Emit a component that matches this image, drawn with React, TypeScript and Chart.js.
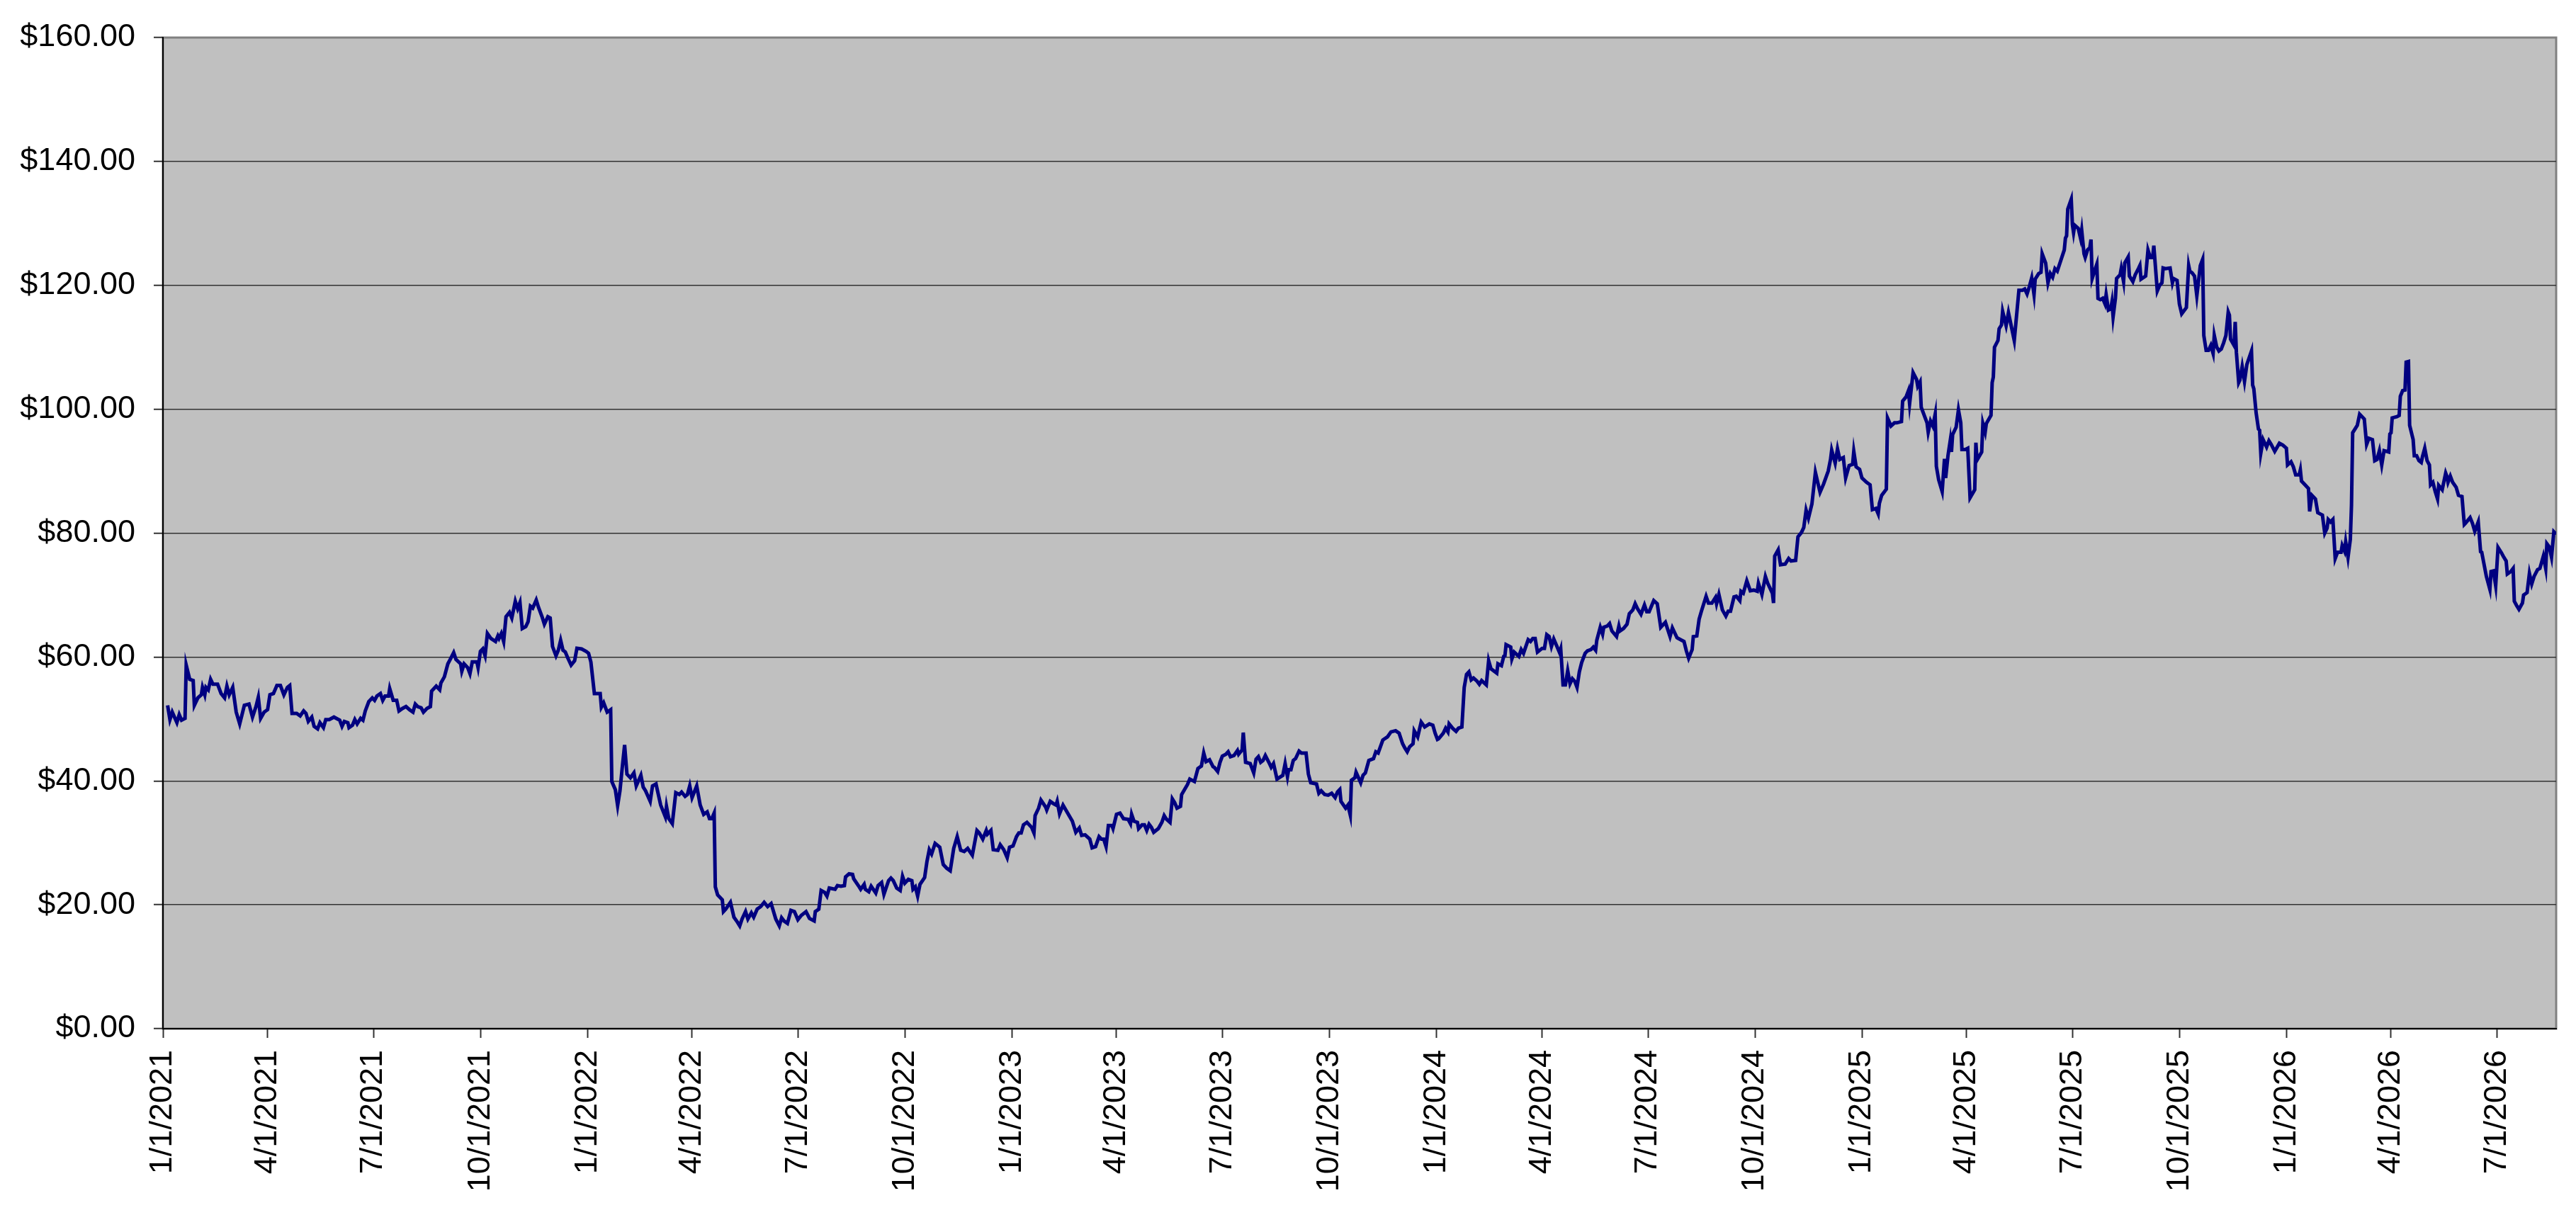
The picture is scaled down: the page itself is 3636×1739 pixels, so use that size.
import { useEffect, useRef } from 'react';
import { Chart, registerables } from 'chart.js';

Chart.register(...registerables);

// x tick labels (quarter starts)
const tickLabels = [
  '1/1/2021', '4/1/2021', '7/1/2021', '10/1/2021',
  '1/1/2022', '4/1/2022', '7/1/2022', '10/1/2022',
  '1/1/2023', '4/1/2023', '7/1/2023', '10/1/2023',
  '1/1/2024', '4/1/2024', '7/1/2024', '10/1/2024',
  '1/1/2025', '4/1/2025', '7/1/2025', '10/1/2025',
  '1/1/2026', '4/1/2026', '7/1/2026',
];

// y axis ticks in dollars
const yTicks = [0, 20, 40, 60, 80, 100, 120, 140, 160];

// days since 1/1/2021
const days = [
  4, 6, 8, 12, 14, 16, 19, 20, 23, 26, 27, 30, 33, 34, 36, 37, 39, 41, 43, 47,
  50, 53, 55, 57, 60, 63, 66, 70, 74, 77, 80, 82, 84, 87, 90, 92, 95, 98, 101, 104,
  107, 109, 111, 115, 118, 121, 123, 125, 128, 130, 133, 135, 138, 140, 143, 147, 152, 154, 156, 159,
  160, 163, 165, 167, 170, 172, 174, 177, 180, 182, 184, 187, 189, 191, 194, 195, 198, 201, 203, 206,
  209, 212, 215, 217, 219, 222, 224, 227, 230, 231, 235, 238, 239, 242, 245, 247, 250, 252, 256, 257,
  259, 262, 264, 266, 270, 271, 273, 275, 277, 279, 282, 286, 288, 289, 291, 293, 295, 298, 300, 303,
  305, 307, 309, 312, 314, 316, 318, 321, 323, 326, 328, 331, 333, 335, 338, 340, 342, 344, 346, 348,
  351, 354, 356, 360, 364,
  366, 368, 371, 376, 377, 379, 382, 385, 386, 389, 391, 393, 395, 397, 399, 402, 405, 407, 411, 413,
  415, 419, 421, 424, 428, 432, 433, 435, 438, 441, 444, 446, 449, 451, 453, 455, 459, 462, 465, 468,
  470, 472, 474, 475, 477, 481, 482, 484, 488, 491, 494, 496, 498, 501, 503, 506, 508, 511, 514, 517,
  520, 523, 527, 530, 532, 534, 537, 540, 543, 546, 549, 553, 556, 560, 561, 564, 566, 569, 571, 573,
  578, 580, 583, 586, 587, 590, 593, 594, 598, 600, 603, 604, 607, 609, 613, 615, 618, 620, 624, 626,
  628, 631, 634, 636, 638, 641, 644, 645, 647, 649, 651, 655, 657, 659, 661, 664, 668, 671, 674, 677,
  680, 683, 686, 689, 692, 696, 700, 702, 705, 708, 709, 712, 714, 718, 720, 723, 726, 728,
  731, 734, 736, 738, 740, 743, 747, 749, 750, 753, 755, 759, 760, 763, 766, 768, 769, 771, 774, 778,
  782, 785, 788, 790, 793, 797, 799, 802, 805, 807, 809, 811, 813, 816, 817, 820, 823, 826, 830, 832,
  833, 835, 838, 839, 842, 844, 846, 848, 850, 852, 856, 859, 861, 863, 866, 868, 870, 872, 875, 876,
  881, 883, 887, 890, 893, 895, 897, 900, 903, 904, 907, 909, 911, 914, 916, 918, 921, 924, 925, 928,
  929, 931, 935, 938, 940, 942, 944, 946, 948, 951, 953, 955, 958, 963, 965, 967, 968, 970, 972, 974,
  977, 979, 983, 985, 987, 992, 994, 996, 999, 1002, 1005, 1008, 1010, 1012, 1013, 1017, 1019, 1021, 1022, 1025,
  1026, 1030, 1032, 1034, 1037, 1041, 1043, 1045, 1049, 1053, 1056, 1060, 1063, 1066, 1068, 1070, 1072, 1075, 1076, 1079,
  1082, 1085, 1089, 1092, 1094, 1096,
  1097, 1101, 1103, 1105, 1106, 1109, 1112, 1114, 1117, 1119, 1121, 1123, 1125, 1127, 1130, 1132, 1134, 1138, 1140, 1142,
  1147, 1148, 1151, 1153, 1154, 1155, 1159, 1160, 1162, 1166, 1168, 1170, 1174, 1176, 1178, 1180, 1182, 1186, 1188, 1190,
  1192, 1194, 1196, 1199, 1201, 1202, 1204, 1206, 1208, 1210, 1212, 1214, 1216, 1218, 1220, 1223, 1225, 1228, 1230, 1232,
  1233, 1236, 1238, 1239, 1242, 1244, 1246, 1250, 1252, 1253, 1256, 1259, 1261, 1264, 1266, 1268, 1271, 1274, 1276, 1278,
  1282, 1285, 1288, 1292, 1296, 1298, 1302, 1306, 1308, 1310, 1312, 1315, 1316, 1319, 1321, 1323, 1327, 1329, 1332, 1335,
  1336, 1338, 1341, 1344, 1346, 1348, 1351, 1353, 1356, 1357, 1359, 1362, 1365, 1368, 1371, 1372, 1375, 1378, 1380, 1384,
  1385, 1386, 1389, 1391, 1395, 1398, 1400, 1404, 1406, 1409, 1411, 1413, 1415, 1418, 1421, 1425, 1428, 1432, 1434, 1435,
  1438, 1440, 1442, 1445, 1447, 1450, 1453, 1454, 1456,
  1459, 1461, 1465, 1468, 1470, 1473, 1475, 1476, 1478, 1482, 1483, 1486, 1489, 1491, 1495, 1496, 1499, 1501, 1502, 1505,
  1508, 1509, 1511, 1512, 1515, 1517, 1518, 1520, 1522, 1524, 1525, 1527, 1530, 1532, 1533, 1535, 1537, 1538, 1539, 1542,
  1544, 1546, 1547, 1550, 1552, 1554, 1558, 1559, 1560, 1564, 1565, 1567, 1568, 1572, 1573, 1574, 1575, 1578, 1579, 1581,
  1582, 1585, 1587, 1592, 1596, 1599, 1601, 1603, 1605, 1607, 1609, 1610, 1613, 1615, 1616, 1619, 1621, 1623, 1625, 1627,
  1629, 1632, 1635, 1636, 1637, 1638, 1641, 1642, 1643, 1644, 1647, 1649, 1650, 1652, 1653, 1655, 1657, 1658, 1659, 1661,
  1663, 1664, 1666, 1668, 1670, 1671, 1673, 1675, 1676, 1677, 1679, 1680, 1683, 1684, 1686, 1687, 1690, 1691, 1694, 1696,
  1699, 1700, 1701, 1705, 1707, 1709, 1711, 1712, 1715, 1717, 1719, 1720, 1722, 1726, 1728, 1729, 1732, 1734, 1736, 1740,
  1742, 1743, 1745, 1747, 1749, 1752, 1754, 1755, 1757, 1759,
  1761, 1763, 1764, 1766, 1768, 1770, 1772, 1774, 1776, 1777, 1778, 1781, 1782, 1783, 1785, 1786, 1788, 1790, 1792, 1796,
  1797, 1798, 1800, 1802, 1803, 1804, 1806, 1809, 1811, 1813, 1816, 1820, 1823, 1826, 1827, 1830, 1832, 1834, 1837, 1838,
  1839, 1842, 1845, 1846, 1848, 1851, 1853, 1857, 1859, 1861, 1862, 1864, 1866, 1868, 1870, 1873, 1874, 1876, 1877, 1879,
  1881, 1882, 1883, 1885, 1887, 1889, 1893, 1895, 1897, 1900, 1902, 1904, 1906, 1908, 1910, 1914, 1915, 1916, 1917, 1921,
  1923, 1924, 1926, 1928, 1929, 1931, 1932, 1935, 1936, 1938, 1940, 1942, 1943, 1945, 1947, 1949, 1950, 1952, 1954, 1956,
  1957, 1960, 1963, 1964, 1965, 1967, 1969, 1972, 1974, 1977, 1979, 1980, 1984, 1986, 1988, 1991, 1992, 1993, 1994, 1998,
  2001, 2002, 2004, 2006, 2008, 2011, 2013, 2015, 2016, 2019, 2021, 2022, 2024, 2026, 2029, 2030, 2033, 2035, 2037, 2039,
  2042, 2044, 2047, 2049, 2050, 2052, 2054, 2056, 2058,
];

const prices = [
  52.2, 49.9, 51.1, 49.4, 50.7, 49.8, 50.1, 58.7, 56.4, 56.2, 52.2, 53.4, 53.9, 55.1, 53.9, 55.1, 54.7, 56.4, 55.6, 55.6,
  54.1, 53.4, 55.3, 53.9, 55.1, 51.1, 49.2, 52.2, 52.4, 50.3, 52.0, 53.5, 50.1, 51.1, 51.5, 53.9, 54.1, 55.4, 55.4, 53.9,
  55.1, 55.4, 50.9, 50.9, 50.5, 51.3, 50.9, 49.6, 50.3, 48.8, 48.4, 49.4, 48.6, 49.9, 49.9, 50.3, 49.8, 48.8, 49.6, 49.4,
  48.6, 49.0, 49.9, 49.2, 50.1, 49.8, 51.3, 52.8, 53.4, 53.0, 53.7, 54.1, 53.0, 53.7, 53.7, 54.9, 53.0, 53.0, 51.3, 51.7,
  52.0, 51.5, 51.1, 52.4, 52.0, 51.8, 51.1, 51.7, 52.0, 54.5, 55.3, 54.7, 55.8, 56.8, 58.9, 59.6, 60.7, 59.6, 58.9, 57.7,
  58.9, 58.3, 57.3, 59.2, 59.2, 58.3, 60.9, 61.3, 60.2, 63.8, 63.0, 62.5, 63.4, 63.0, 63.8, 62.5, 66.5, 67.2, 66.3, 69.0,
  67.8, 68.8, 64.6, 64.9, 65.7, 68.2, 67.9, 69.2, 68.0, 66.5, 65.3, 66.5, 66.3, 61.7, 60.2, 61.1, 62.7, 61.1, 60.8, 59.9,
  58.7, 59.4, 61.4, 61.3, 60.9,
  60.6, 59.2, 54.1, 54.1, 51.9, 52.6, 51.1, 51.5, 39.9, 38.6, 36.0, 38.4, 42.2, 45.8, 41.1, 40.5, 41.3, 39.2, 40.9, 39.0,
  38.4, 36.7, 39.2, 39.5, 36.1, 34.2, 35.9, 33.9, 33.1, 38.1, 37.8, 38.2, 37.5, 37.8, 39.2, 37.3, 39.2, 36.1, 34.6, 35.0,
  33.9, 33.9, 34.8, 22.9, 21.6, 20.8, 18.9, 19.3, 20.4, 18.0, 17.2, 16.6, 17.7, 18.9, 17.7, 18.7, 18.0, 19.3, 19.7, 20.4,
  19.7, 20.2, 17.7, 16.6, 17.9, 17.4, 17.0, 19.1, 18.9, 17.6, 18.3, 18.9, 17.8, 17.4, 18.9, 19.3, 22.3, 22.0, 21.4, 22.7,
  22.5, 23.1, 23.0, 23.1, 24.5, 25.0, 24.9, 24.2, 23.1, 22.5, 23.3, 22.5, 22.1, 23.0, 21.9, 23.1, 23.6, 21.7, 23.9, 24.3,
  23.9, 22.7, 22.3, 24.6, 23.5, 24.1, 23.9, 22.5, 22.9, 21.4, 23.3, 24.4, 27.0, 28.9, 28.2, 29.9, 29.3, 26.5, 25.9, 25.5,
  29.1, 31.0, 28.8, 28.6, 29.1, 28.0, 32.0, 31.6, 30.6, 32.0, 31.4, 32.0, 28.9, 28.8, 29.7, 28.9, 27.6, 29.3,
  29.5, 31.0, 31.6, 31.6, 32.9, 33.3, 32.5, 31.6, 34.4, 35.6, 36.9, 35.8, 35.3, 36.7, 36.3, 36.1, 36.7, 34.7, 36.1, 34.8,
  33.5, 31.7, 32.4, 31.2, 31.3, 30.6, 29.2, 29.4, 31.0, 30.6, 30.6, 29.4, 32.8, 32.8, 32.3, 34.6, 34.8, 33.9, 33.8, 33.1,
  34.6, 33.5, 33.3, 32.3, 32.9, 32.9, 32.0, 33.0, 32.5, 31.7, 32.3, 33.3, 34.4, 33.8, 33.3, 37.1, 36.5, 35.6, 35.9, 37.8,
  39.4, 40.3, 39.9, 42.0, 42.4, 44.5, 43.1, 43.4, 42.3, 42.2, 41.5, 43.0, 44.0, 44.3, 44.7, 43.9, 44.1, 44.9, 44.3, 45.0,
  47.8, 43.0, 42.8, 41.3, 43.5, 43.9, 43.0, 43.3, 44.1, 43.0, 42.2, 42.8, 40.3, 40.9, 42.8, 40.7, 41.8, 41.8, 43.3, 43.6,
  44.8, 44.5, 44.5, 41.1, 39.7, 39.5, 38.0, 38.4, 37.8, 37.7, 38.0, 37.3, 38.2, 38.6, 36.7, 35.6, 36.1, 34.5, 40.1, 40.5,
  41.4, 39.7, 40.9, 41.3, 43.3, 43.6, 44.7, 44.5, 46.6, 47.1, 47.9, 48.1, 47.7, 46.0, 45.3, 44.7, 45.5, 46.0, 48.1, 47.1,
  49.5, 48.7, 49.2, 49.0, 47.7, 46.7,
  46.8, 47.7, 48.5, 47.9, 49.2, 48.5, 48.0, 48.5, 48.7, 55.1, 57.2, 57.6, 56.3, 56.6, 56.1, 55.6, 56.2, 55.5, 59.4, 58.1,
  57.4, 58.9, 58.6, 60.1, 60.2, 62.0, 61.6, 59.7, 60.8, 60.1, 61.2, 60.6, 62.8, 62.5, 63.0, 63.0, 60.8, 61.4, 61.4, 63.6,
  63.3, 61.7, 62.9, 61.6, 60.7, 61.3, 55.5, 55.5, 57.8, 55.7, 56.5, 56.1, 55.1, 57.6, 59.1, 60.6, 61.0, 61.2, 61.6, 61.1,
  62.7, 64.8, 63.7, 64.8, 65.0, 65.4, 64.2, 63.3, 65.0, 64.2, 64.6, 65.3, 67.0, 67.6, 68.6, 67.8, 66.9, 68.4, 67.3, 67.3,
  69.1, 68.6, 64.8, 65.6, 63.3, 64.7, 63.1, 62.7, 62.5, 61.0, 59.8, 61.2, 63.3, 63.4, 66.1, 67.4, 69.8, 68.7, 68.7, 69.6,
  68.6, 70.1, 67.6, 66.6, 67.4, 67.4, 69.7, 69.8, 69.1, 70.6, 70.3, 72.3, 70.7, 70.8, 70.6, 71.9, 70.1, 73.0, 71.9, 70.3,
  68.7, 76.3, 77.3, 74.9, 75.0, 75.9, 75.5, 75.6, 79.4, 80.1, 80.9, 83.7, 82.4, 84.7, 89.8, 86.6, 87.9, 90.0, 91.9, 93.4,
  91.3, 93.6, 91.9, 92.2, 88.9, 90.9, 91.1, 93.2, 90.7,
  90.3, 88.9, 88.2, 87.8, 83.8, 84.0, 83.1, 84.8, 86.1, 87.1, 98.6, 97.3, 97.8, 97.8, 98.0, 101.3, 102.0, 103.0, 100.9, 105.9,
  104.8, 103.7, 104.4, 100.3, 98.8, 97.8, 96.3, 98.1, 97.3, 99.2, 90.8, 88.6, 86.7, 92.0, 88.9, 92.5, 95.0, 93.1, 95.9, 97.1,
  99.9, 97.8, 93.5, 93.5, 93.7, 85.7, 87.0, 94.6, 91.8, 93.1, 97.7, 96.3, 97.7, 99.0, 104.3, 105.2, 110.0, 111.1, 113.0, 113.6,
  115.8, 113.5, 115.6, 111.1, 119.2, 119.2, 119.4, 118.6, 119.8, 121.2, 118.5, 121.0, 121.9, 122.1, 125.1, 123.6, 120.4, 121.9, 121.3, 122.7,
  122.3, 124.0, 125.7, 127.6, 128.0, 132.3, 133.9, 129.8, 128.5, 129.7, 129.2, 127.6, 128.9, 125.1, 124.5, 125.7, 126.1, 127.4, 121.1, 122.3,
  123.4, 117.9, 117.7, 117.9, 117.0, 118.5, 116.0, 116.2, 117.3, 114.9, 117.9, 121.1, 121.7, 122.7, 120.6, 123.6, 124.6, 121.5, 120.6, 121.7,
  122.8, 123.2, 121.0, 121.5, 125.7, 124.5, 124.5, 126.4, 119.1, 120.0, 120.4, 122.8, 122.7, 122.8, 120.4, 121.1, 120.8, 117.0, 115.4, 116.4,
  123.2, 122.3, 122.0, 121.5, 118.3, 123.2, 124.2, 111.9, 109.5, 109.5,
  110.3, 109.0, 111.9, 110.1, 109.4, 109.7, 110.7, 111.9, 115.7, 115.2, 111.3, 110.3, 114.1, 109.2, 104.3, 104.7, 106.9, 104.5, 107.2, 109.4,
  103.9, 103.3, 99.4, 96.8, 96.6, 92.9, 95.1, 93.9, 94.9, 94.3, 93.2, 94.5, 94.2, 93.7, 91.0, 91.5, 90.7, 89.4, 89.4, 90.2,
  88.4, 87.8, 87.2, 83.5, 86.1, 85.5, 83.3, 82.9, 80.0, 80.8, 82.2, 81.8, 82.2, 75.9, 76.9, 76.9, 78.0, 77.1, 78.6, 76.1,
  79.0, 84.5, 96.2, 96.8, 97.4, 99.2, 98.4, 94.3, 95.3, 95.1, 91.7, 91.9, 93.3, 91.0, 93.3, 93.1, 96.0, 96.2, 98.6, 98.8,
  99.0, 102.1, 103.0, 103.1, 107.6, 107.7, 97.4, 95.1, 92.5, 92.5, 91.7, 91.4, 92.3, 93.7, 91.7, 91.0, 87.8, 88.2, 86.7, 85.5,
  87.7, 87.0, 89.7, 89.2, 88.2, 89.2, 88.2, 87.4, 86.1, 85.9, 81.4, 81.6, 82.5, 81.6, 80.3, 81.8, 79.4, 77.0, 76.9, 73.0,
  70.9, 73.8, 73.9, 71.5, 77.7, 76.8, 76.1, 75.5, 73.4, 73.8, 74.3, 69.0, 68.3, 67.7, 68.7, 70.0, 70.4, 73.5, 71.8, 73.0,
  74.1, 74.3, 76.3, 74.3, 78.3, 77.8, 76.1, 80.2, 79.8,
];

const lastDay = 2058;

function toDay(label: string) {
  const [m, d, y] = label.split('/').map(Number);
  return Math.round((Date.UTC(y, m - 1, d) - Date.UTC(2021, 0, 1)) / 86400000);
}

const tickDays = tickLabels.map(toDay);

const FONT = { family: "'Liberation Sans', Arial, sans-serif", size: 45 };

// grey plot area with a thin grey frame, drawn under grid lines and the series
const plotFrame = {
  id: 'plotFrame',
  beforeDraw(chart: Chart) {
    const { ctx, chartArea: a } = chart;
    ctx.save();
    ctx.fillStyle = '#c0c0c0';
    ctx.fillRect(a.left, a.top, a.right - a.left, a.bottom - a.top);
    ctx.strokeStyle = '#808080';
    ctx.lineWidth = 3;
    ctx.strokeRect(a.left, a.top, a.right - a.left, a.bottom - a.top);
    ctx.restore();
  },
};

export default function App() {
  const canvasRef = useRef<HTMLCanvasElement>(null);
  const chartRef = useRef<Chart | null>(null);

  useEffect(() => {
    if (!canvasRef.current) return;
    if (chartRef.current) chartRef.current.destroy();

    chartRef.current = new Chart(canvasRef.current, {
      type: 'line',
      data: {
        datasets: [
          {
            data: days.map((d, i) => ({ x: d, y: prices[i] })),
            borderColor: '#000080',
            borderWidth: 5,
            pointRadius: 0,
            tension: 0,
            fill: false,
          },
        ],
      },
      options: {
        animation: false,
        responsive: true,
        maintainAspectRatio: false,
        devicePixelRatio: 1,
        events: [],
        layout: { padding: { top: 45, right: 28, left: 0, bottom: 0 } },
        plugins: {
          legend: { display: false },
          tooltip: { enabled: false },
        },
        scales: {
          x: {
            type: 'linear',
            min: 0,
            max: lastDay,
            afterBuildTicks: (axis) => {
              axis.ticks = tickDays.map((value) => ({ value }));
            },
            afterFit: (axis) => {
              axis.height = 287;
            },
            grid: {
              drawOnChartArea: false,
              drawTicks: true,
              tickLength: 13,
              tickColor: '#333333',
              tickWidth: 2,
            },
            border: { color: '#000000', width: 2 },
            ticks: {
              autoSkip: false,
              minRotation: 90,
              maxRotation: 90,
              padding: 17,
              color: '#000000',
              font: FONT,
              callback: (value) => {
                const i = tickDays.indexOf(Number(value));
                return i >= 0 ? tickLabels[i] : '';
              },
            },
          },
          y: {
            min: yTicks[0],
            max: yTicks[yTicks.length - 1],
            afterBuildTicks: (axis) => {
              axis.ticks = yTicks.map((value) => ({ value }));
            },
            afterFit: (axis) => {
              axis.width = 230;
            },
            grid: {
              color: (c) =>
                c.tick && (c.tick.value === yTicks[0] || c.tick.value === yTicks[yTicks.length - 1])
                  ? 'rgba(0,0,0,0)'
                  : '#333333',
              lineWidth: 1.5,
              drawTicks: true,
              tickLength: 13,
              tickColor: '#333333',
              tickWidth: 2,
            },
            border: { color: '#000000', width: 2 },
            ticks: {
              padding: 26,
              color: '#000000',
              font: FONT,
              callback: (value) => '$' + Number(value).toFixed(2),
            },
          },
        },
      },
      plugins: [plotFrame],
    });

    return () => {
      if (chartRef.current) {
        chartRef.current.destroy();
        chartRef.current = null;
      }
    };
  }, []);

  return (
    <div style={{ position: 'fixed', left: 0, top: 0, width: '100vw', height: '100vh', background: '#ffffff' }}>
      <canvas ref={canvasRef}></canvas>
    </div>
  );
}
